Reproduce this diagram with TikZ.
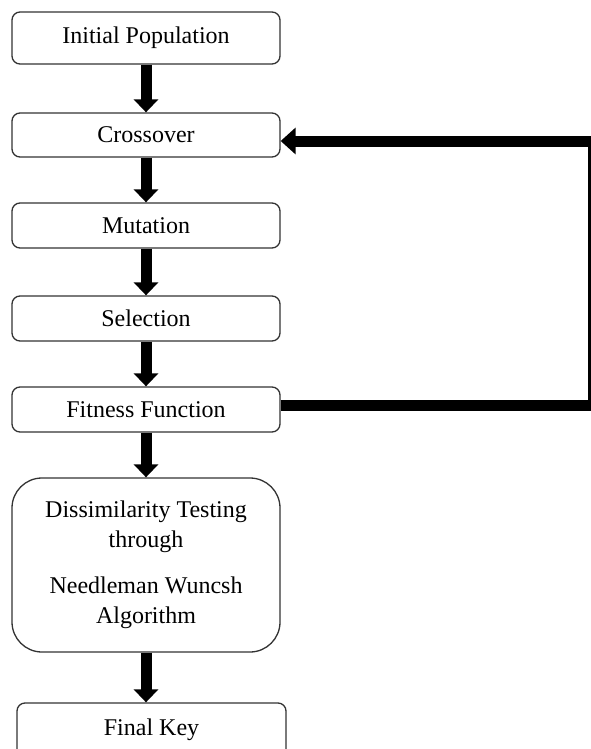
\documentclass[tikz,border=0pt]{standalone}
\usepackage{fontspec}
\setmainfont{Liberation Serif}
\usetikzlibrary{arrows.meta,positioning}

\begin{document}
\begin{tikzpicture}[x=0.5pt, y=-0.5pt,
    stage/.style={rectangle, draw=black!80, line width=0.65pt, rounded corners=4pt, minimum width=134pt, inner sep=0pt, align=center, font=\fontsize{12}{15}\selectfont},
    arrow/.style={-{Triangle[width=12pt,length=6.5pt]}, line width=5.5pt},
    feedback/.style={-{Triangle[width=13pt,length=7.5pt]}, line width=5.5pt}
]
    \useasboundingbox (0,0) rectangle (590,749);

    % GA stages
    \node[stage, minimum height=26pt] (init) at (146, 38) {Initial Population};
    \node[stage, minimum height=22pt] (cross) at (146, 135) {Crossover};
    \node[stage, minimum height=22.5pt] (mut) at (146, 225.5) {Mutation};
    \node[stage, minimum height=22.5pt] (sel) at (146, 318.5) {Selection};
    \node[stage, minimum height=22.5pt] (fit) at (146, 409.5) {Fitness Function};

    % Testing
    \node[stage, minimum height=87pt, rounded corners=15pt] (dis) at (146, 565) {Dissimilarity Testing\\through\\[8pt]Needleman Wuncsh\\Algorithm};

    % Output (runs off the bottom edge)
    \node[stage, minimum height=27pt, minimum width=134.5pt] (key) at (151.5, 730) {Final Key};

    % Arrows
    \draw[arrow] (init) -- (cross);
    \draw[arrow] (cross) -- (mut);
    \draw[arrow] (mut) -- (sel);
    \draw[arrow] (sel) -- (fit);
    \draw[arrow] (fit) -- (dis);
    \draw[arrow] (dis.south) -- (dis.south |- key.north);

    % Loop back
    \coordinate (edge) at (593, 0);
    \coordinate (fbstart) at ([yshift=2.25pt]fit.east);
    \coordinate (fbend) at ([yshift=-3pt]cross.east);
    \draw[feedback] (fbstart) -- (fbstart -| edge) |- (fbend);
\end{tikzpicture}
\end{document}
